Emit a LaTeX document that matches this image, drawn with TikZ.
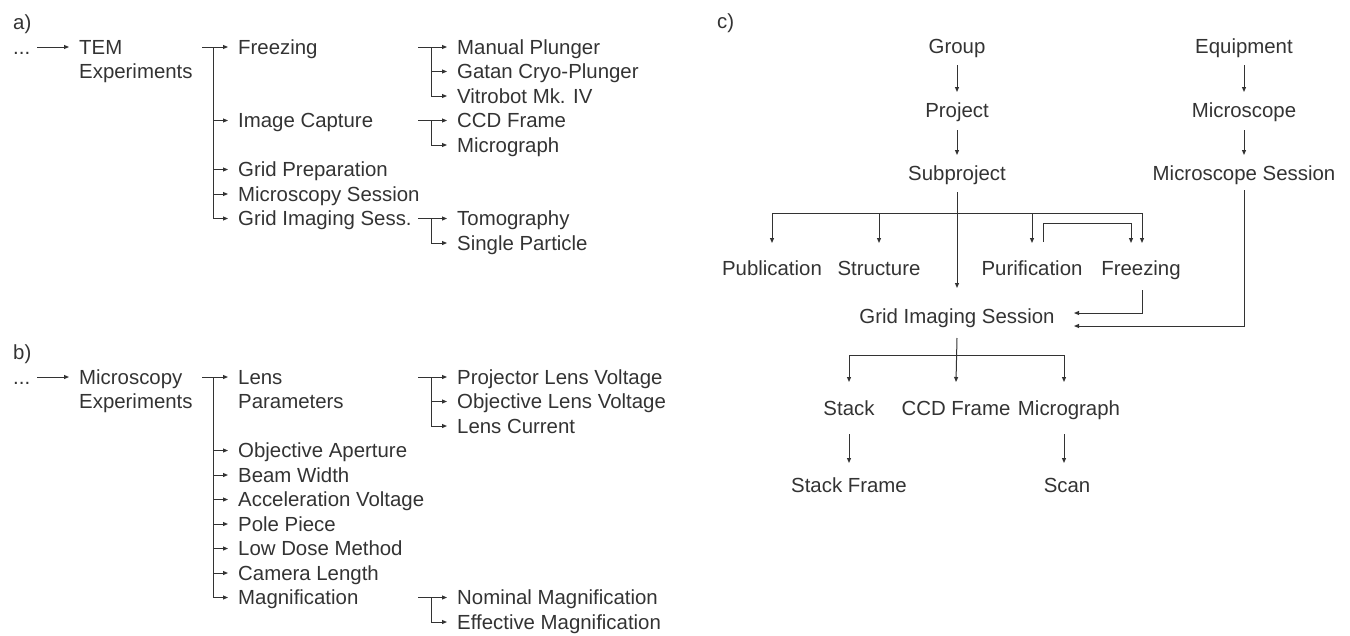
\documentclass[tikz,border=0pt]{standalone}
\usepackage{fontspec}
\setmainfont{Liberation Sans}
\usetikzlibrary{arrows.meta}
\definecolor{ink}{HTML}{333333}
\tikzset{
  lbl/.style={inner sep=0pt, text height=14.6pt, text depth=0pt, text=ink,
    font=\fontsize{20.4}{24.5}\selectfont},
  li/.style={lbl, anchor=west},
  ln/.style={draw=ink, line width=1pt},
  arr/.style={ln, -{Triangle[length=5pt,width=4pt]}},
  larr/.style={arr, shorten >=10pt},
}
\begin{document}
\begin{tikzpicture}[x=1pt,y=-1pt]
\useasboundingbox (0,0) rectangle (1350,635);
% ---------------- a) ----------------
\node[li] (la) at (13,22) {a)};
\node[li] (dota) at (13,47) {...};
\node[li] (tem) at (79,47) {TEM};
\node[li] (temx) at (79,71.5) {Experiments};
\node[li] (afr) at (238,47) {Freezing};
\node[li] (aic) at (238,120.5) {Image Capture};
\node[li] (agp) at (238,169.5) {Grid Preparation};
\node[li] (ams) at (238,194) {Microscopy Session};
\node[li] (agi) at (238,218.5) {Grid Imaging Sess.};
\node[li] (amp) at (457,47) {Manual Plunger};
\node[li] (agc) at (457,71.5) {Gatan Cryo-Plunger};
\node[li] (avb) at (457,96) {Vitrobot Mk. IV};
\node[li] (accd) at (457,120.5) {CCD Frame};
\node[li] (amg) at (457,145) {Micrograph};
\node[li] (ato) at (457,218.5) {Tomography};
\node[li] (asp) at (457,243) {Single Particle};
\coordinate (da) at (37,47);
\coordinate (a1) at (202,47);
\coordinate (a1v) at (213,47);
\coordinate (a2) at (418,47);
\coordinate (a2v) at (431,47);
\coordinate (a3) at (418,120.5);
\coordinate (a3v) at (431,120.5);
\coordinate (a4) at (418,218.5);
\coordinate (a4v) at (431,218.5);
\draw[larr] (da) -- (tem.west);
\draw[larr] (a1) -- (afr.west);
\draw[ln] (a1v) -- (a1v |- agi.west);
\foreach \n in {aic,agp,ams,agi} \draw[larr] (a1v |- \n.west) -- (\n.west);
\draw[larr] (a2) -- (amp.west);
\draw[ln] (a2v) -- (a2v |- avb.west);
\foreach \n in {agc,avb} \draw[larr] (a2v |- \n.west) -- (\n.west);
\draw[larr] (a3) -- (accd.west);
\draw[ln] (a3v) -- (a3v |- amg.west);
\draw[larr] (a3v |- amg.west) -- (amg.west);
\draw[larr] (a4) -- (ato.west);
\draw[ln] (a4v) -- (a4v |- asp.west);
\draw[larr] (a4v |- asp.west) -- (asp.west);
% ---------------- b) ----------------
\node[li] (lb) at (13,352) {b)};
\node[li] (dotb) at (13,377) {...};
\node[li] (mex) at (79,377) {Microscopy};
\node[li] (mexx) at (79,401.5) {Experiments};
\node[li] (blp) at (238,377) {Lens};
\node[li] (blpx) at (238,401.5) {Parameters};
\node[li] (boa) at (238,450.5) {Objective Aperture};
\node[li] (bbw) at (238,475) {Beam Width};
\node[li] (bav) at (238,499.5) {Acceleration Voltage};
\node[li] (bpp) at (238,524) {Pole Piece};
\node[li] (bld) at (238,548.5) {Low Dose Method};
\node[li] (bcl) at (238,573) {Camera Length};
\node[li] (bmg) at (238,597.5) {Magnification};
\node[li] (bpl) at (457,377) {Projector Lens Voltage};
\node[li] (bol) at (457,401.5) {Objective Lens Voltage};
\node[li] (blc) at (457,426) {Lens Current};
\node[li] (bnm) at (457,597.5) {Nominal Magnification};
\node[li] (bem) at (457,622) {Effective Magnification};
\coordinate (db) at (37,377);
\coordinate (b1) at (202,377);
\coordinate (b1v) at (213,377);
\coordinate (b2) at (418,377);
\coordinate (b2v) at (431,377);
\coordinate (b3) at (418,597.5);
\coordinate (b3v) at (431,597.5);
\draw[larr] (db) -- (mex.west);
\draw[larr] (b1) -- (blp.west);
\draw[ln] (b1v) -- (b1v |- bmg.west);
\foreach \n in {boa,bbw,bav,bpp,bld,bcl,bmg} \draw[larr] (b1v |- \n.west) -- (\n.west);
\draw[larr] (b2) -- (bpl.west);
\draw[ln] (b2v) -- (b2v |- blc.west);
\foreach \n in {bol,blc} \draw[larr] (b2v |- \n.west) -- (\n.west);
\draw[larr] (b3) -- (bnm.west);
\draw[ln] (b3v) -- (b3v |- bem.west);
\draw[larr] (b3v |- bem.west) -- (bem.west);
% ---------------- c) ----------------
\node[li] (lc) at (717,21) {c)};
\node[lbl] (g) at (957,46) {Group};
\node[lbl] (p) at (957,110) {Project};
\node[lbl] (sp) at (957,173) {Subproject};
\node[lbl] (eq) at (1244,46) {Equipment};
\node[lbl] (mi) at (1244,110) {Microscope};
\node[lbl] (ms) at (1244,173) {Microscope Session};
\node[lbl] (pub) at (772,268) {Publication};
\node[lbl] (st) at (879,268) {Structure};
\node[lbl] (pu) at (1032,268) {Purification};
\node[lbl] (fz) at (1141,268) {Freezing};
\node[lbl] (gis) at (957,316) {Grid Imaging Session};
\node[lbl] (stk) at (849,408) {Stack};
\node[lbl] (ccd) at (956,408) {CCD Frame};
\node[lbl] (mic) at (1069,408) {Micrograph};
\node[lbl] (sf) at (849,485) {Stack Frame};
\node[lbl] (scan) at (1067,485) {Scan};
\draw[arr] ([yshift=-19pt]g.center) -- ([yshift=18pt]p.center);
\draw[arr] ([yshift=-20pt]p.center) -- ([yshift=18pt]sp.center);
\draw[arr] ([yshift=-19pt]eq.center) -- ([yshift=18pt]mi.center);
\draw[arr] ([yshift=-20pt]mi.center) -- ([yshift=18pt]ms.center);
\draw[arr] ([yshift=-19pt]sp.center) -- ([yshift=28pt]gis.center);
\draw[arr] ([yshift=-40pt]sp.center) -| ([yshift=25pt]pub.center);
\draw[arr] ([yshift=-40pt]sp.center) -| ([yshift=25pt]st.center);
\draw[arr] ([yshift=-40pt]sp.center) -| ([yshift=25pt]pu.center);
\draw[arr] ([yshift=-40pt]sp.center) -| ([xshift=1pt,yshift=25pt]fz.center);
\draw[arr] ([xshift=11pt,yshift=26pt]pu.center) |- ([xshift=-10pt,yshift=45pt]fz.center) -- ([xshift=-10pt,yshift=25pt]fz.center);
\draw[arr] ([xshift=1pt,yshift=-22pt]fz.center) |- ([xshift=117pt,yshift=3pt]gis.center);
\draw[arr] ([yshift=-17pt]ms.center) |- ([xshift=117pt,yshift=-10pt]gis.center);
\draw[arr] ([yshift=-22pt]gis.center) -- ([yshift=26pt]ccd.center);
\draw[arr] ([yshift=-39pt]gis.center) -| ([yshift=26pt]stk.center);
\draw[arr] ([yshift=-39pt]gis.center) -| ([xshift=-5pt,yshift=26pt]mic.center);
\draw[arr] ([yshift=-26pt]stk.center) -- ([yshift=22pt]sf.center);
\draw[arr] ([xshift=-5pt,yshift=-26pt]mic.center) -- ([xshift=-5pt,yshift=-55pt]mic.center);
\end{tikzpicture}
\end{document}
